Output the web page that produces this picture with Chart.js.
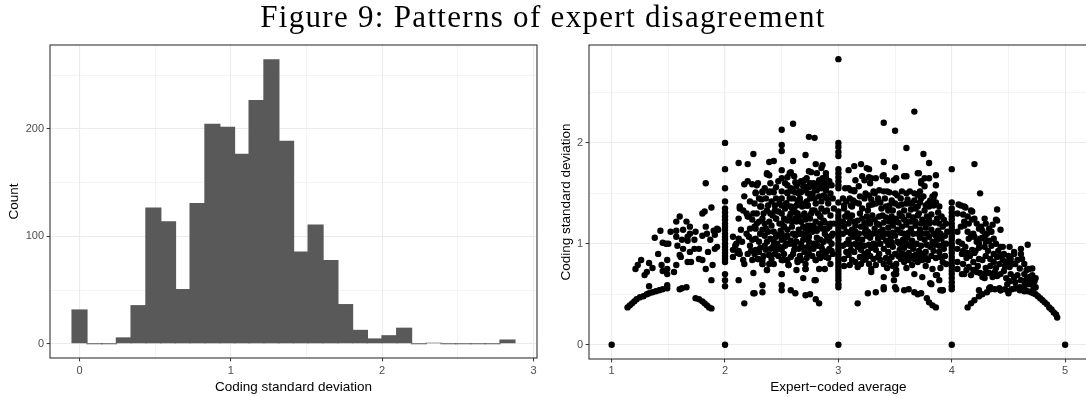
<!DOCTYPE html>
<html><head><meta charset="utf-8">
<script src="https://cdn.jsdelivr.net/npm/chart.js@4/dist/chart.umd.min.js"></script>
<style>
html,body{margin:0;padding:0;background:#fff;width:1086px;height:397px;overflow:hidden;position:relative}
#title{position:absolute;left:0;top:1px;width:1086px;text-align:center;font-family:'Liberation Serif',serif;font-size:31px;line-height:31px;letter-spacing:1.3px;color:#000;white-space:nowrap;z-index:2}
#c1{position:absolute;left:0;top:0}
#wrap2{position:absolute;left:543px;top:0;width:543px;height:397px;overflow:hidden}
#c2{position:absolute;left:0;top:0}
</style></head><body>
<canvas id="c1" width="543" height="397"></canvas>
<div id="wrap2"><canvas id="c2" width="548" height="397"></canvas></div>
<div id="title">Figure 9: Patterns of expert disagreement</div>
<script>
// ---------- Histogram data ----------
const histCenters = [0, 0.098, 0.195, 0.293, 0.39, 0.488, 0.585, 0.683, 0.78, 0.878, 0.975, 1.073, 1.17, 1.268, 1.365, 1.463, 1.56, 1.658, 1.755, 1.853, 1.95, 2.048, 2.145, 2.243, 2.34, 2.438, 2.535, 2.633, 2.73, 2.828];
const histCounts  = [32, 0, 0, 6, 36, 127, 114, 51, 131, 205, 202, 177, 227, 265, 189, 86, 111, 78, 37, 13, 5, 8, 15, 0, 1, 0, 0, 0, 0, 4];
const histXMajor = [0, 1, 2, 3];
const histXMinor = [0.5, 1.5, 2.5];
const histYMajor = [0, 100, 200];
const histYMinor = [50, 150, 250];

// ---------- Scatter data (expert-coded average, coding SD) ----------
const scatXMajor = [1, 2, 3, 4, 5];
const scatXMinor = [1.5, 2.5, 3.5, 4.5];
const scatYMajor = [0, 1, 2];
const scatYMinor = [0.5, 1.5, 2.5];

const zeroPts = [[1,0],[2,0],[3,0],[4,0],[5,0]];
const col2Y = [2.0,1.74,1.55,1.42,1.35,1.31,1.27,1.24,1.2,1.17,1.14,1.1,1.07,1.04,1.0,0.97,0.94,0.91,0.88,0.85,0.82,0.7,0.64,0.58];
const col3Y = [2.83,2.0,1.96,1.91,1.87,1.74,1.7,1.66,1.62,1.58,1.55,1.41,1.32,1.28,1.25,1.22,1.19,1.16,1.13,1.1,1.07,1.04,1.0,0.97,0.94,0.91,0.88,0.85,0.82,0.79,0.76,0.73,0.7,0.67,0.64,0.6,0.57];
const col4Y = [1.74,1.41,1.35,1.31,1.27,1.24,1.2,1.17,1.14,1.1,1.07,1.04,1.0,0.97,0.94,0.91,0.87,0.84,0.8,0.77,0.73,0.7,0.66,0.62,0.58,0.55];

const arcPts = [[1.14,0.37],[1.16,0.39],[1.18,0.41],[1.2,0.43],[1.22,0.45],[1.25,0.47],[1.28,0.48],[1.31,0.5],[1.33,0.51],[1.36,0.52],[1.39,0.53],[1.42,0.54],[1.45,0.55],[1.49,0.56],[1.49,0.59],[1.33,0.58],[1.6,0.55],[1.66,0.57],[1.62,0.56],
[1.74,0.46],[1.77,0.45],[1.8,0.43],[1.82,0.41],[1.84,0.39],[1.86,0.37],[1.88,0.36],
[2.17,0.41],[2.25,0.51],[2.26,0.51],[2.33,0.52],[2.33,0.59],[2.5,0.54],[2.5,0.59],[2.58,0.54],[2.62,0.51],[2.71,0.49],[2.75,0.5],[2.8,0.45],[2.83,0.41],[2.25,0.71],
[3.17,0.41],[3.26,0.51],[3.33,0.52],[3.4,0.55],[3.4,0.57],[3.5,0.57],[3.51,0.55],[3.58,0.54],[3.62,0.55],[3.67,0.52],[3.7,0.5],[3.73,0.51],[3.78,0.46],[3.8,0.42],[3.83,0.39],[3.86,0.37],[3.82,0.6],[3.9,0.54],[3.92,0.54],[3.49,0.64],[3.49,0.7],
[4.14,0.37],[4.17,0.41],[4.2,0.44],[4.24,0.48],[4.27,0.5],[4.31,0.52],[4.34,0.55],[4.38,0.55],[4.43,0.54],[4.47,0.55],[4.5,0.53],[4.53,0.55],[4.56,0.56],[4.6,0.54],[4.64,0.53],[4.67,0.53],[4.7,0.52],[4.72,0.51],[4.74,0.5],[4.76,0.48],[4.78,0.46],[4.8,0.44],[4.82,0.42],[4.84,0.4],[4.86,0.37],[4.88,0.35],[4.9,0.32],[4.92,0.3],[4.93,0.27]];

const cloudLeft = [[1.21,0.75],[1.23,0.79],[1.26,0.84],[1.29,0.69],[1.31,0.72],[1.33,0.81],[1.36,0.76],[1.38,1.06],[1.41,0.9],[1.43,1.13],[1.44,0.79],[1.45,0.73],[1.45,1.01],[1.48,1.0],[1.49,0.84],[1.49,0.75],[1.49,0.7],[1.5,1.0],[1.52,1.12],[1.55,0.72],[1.57,0.79],[1.57,1.22],[1.57,1.07],[1.57,1.13],[1.58,0.98],[1.6,0.89],[1.6,1.27],[1.61,0.87],[1.62,1.04],[1.63,0.95],[1.63,1.14],[1.66,1.22],[1.67,1.03],[1.67,0.82],[1.67,1.07],[1.69,1.17],[1.69,1.1],[1.69,0.92],[1.7,0.82],[1.73,0.95],[1.73,1.04],[1.74,1.12],[1.77,0.85],[1.77,0.95],[1.8,0.84],[1.8,1.08],[1.8,1.3],[1.82,1.32],[1.83,1.6],[1.83,1.17],[1.83,0.75],[1.84,1.1],[1.85,0.92],[1.87,1.04],[1.88,1.36],[1.88,0.64],[1.89,0.79],[1.9,1.13],[1.91,0.95],[1.91,1.09],[1.93,1.15],[1.94,1.14],[1.93,0.97]];

const cloudMid = [[2.07,0.94],[2.07,1.07],[2.07,0.87],[2.09,0.98],[2.1,1.0],[2.11,0.91],[2.12,0.93],[2.12,0.64],[2.12,1.25],[2.12,1.05],[2.12,1.8],[2.13,0.9],[2.13,1.35],[2.13,1.37],[2.14,1.14],[2.15,1.02],[2.16,1.33],[2.16,0.84],[2.17,0.8],[2.17,1.59],[2.17,1.47],[2.19,1.3],[2.19,1.1],[2.2,1.62],[2.2,0.9],[2.2,1.79],[2.2,1.27],[2.21,1.27],[2.21,1.07],[2.23,0.93],[2.24,1.24],[2.24,1.04],[2.24,0.84],[2.24,1.59],[2.25,1.89],[2.26,1.17],[2.27,1.5],[2.27,0.94],[2.28,1.58],[2.29,1.6],[2.29,0.85],[2.3,1.22],[2.3,1.45],[2.32,1.37],[2.33,1.14],[2.33,1.52],[2.33,0.84],[2.33,0.8],[2.34,1.3],[2.36,0.94],[2.37,1.69],[2.37,1.7],[2.37,0.74],[2.39,1.81],[2.39,1.52],[2.39,1.22],[2.39,0.8],[2.39,0.89],[2.39,1.68],[2.41,1.42],[2.42,1.52],[2.42,0.97],[2.43,1.82],[2.44,1.33],[2.45,1.07],[2.45,1.25],[2.45,0.94],[2.46,1.0],[2.48,1.4],[2.5,2.13],[2.5,1.98],[2.5,1.92],[2.5,1.73],[2.5,1.65],[2.5,1.52],[2.5,1.38],[2.5,1.3],[2.5,1.2],[2.5,1.1],[2.5,1.04],[2.5,0.94],[2.5,0.84],[2.5,0.7],[2.51,0.84],[2.52,1.17],[2.54,1.4],[2.55,1.5],[2.55,1.14],[2.55,0.84],[2.55,1.66],[2.55,1.58],[2.56,0.79],[2.57,1.27],[2.57,1.0],[2.57,1.7],[2.58,1.71],[2.59,1.36],[2.6,2.19],[2.6,1.82],[2.6,1.33],[2.6,1.52],[2.61,1.67],[2.61,0.94],[2.62,1.61],[2.62,1.31],[2.63,1.22],[2.63,0.74],[2.64,1.6],[2.64,1.43],[2.64,0.84],[2.65,1.14],[2.66,1.52],[2.66,1.1],[2.67,1.0],[2.67,1.22],[2.67,0.84],[2.68,1.4],[2.69,1.57],[2.69,1.17],[2.69,0.66],[2.7,1.63],[2.71,1.88],[2.71,1.38],[2.71,1.07],[2.71,0.8],[2.71,1.53],[2.71,1.24],[2.71,0.75],[2.73,1.38],[2.73,1.27],[2.73,0.97],[2.74,2.06],[2.74,1.72],[2.74,1.56],[2.74,1.07],[2.75,1.18],[2.76,1.71],[2.76,1.14],[2.77,1.33],[2.77,1.5],[2.77,1.12],[2.78,1.0],[2.79,2.05],[2.79,0.64],[2.8,1.79],[2.8,1.22],[2.8,1.0],[2.8,0.84],[2.81,1.7],[2.81,1.53],[2.82,1.15],[2.83,1.63],[2.83,0.75],[2.83,0.9],[2.84,1.27],[2.84,1.58],[2.85,1.75],[2.86,1.78],[2.86,0.94],[2.87,1.48],[2.88,1.21],[2.89,1.66],[2.89,1.7],[2.89,1.53],[2.89,0.87],[2.89,0.92],[2.9,1.57],[2.9,1.33],[2.9,1.07],[2.92,1.17],[2.93,1.5],[2.93,1.28],[2.94,1.0],
[2.31,1.37],[2.37,1.33],[2.42,1.28],[2.45,1.25],[2.48,1.2],[2.52,1.17],[2.54,1.4],[2.58,1.37],[2.61,1.33],[2.64,1.3],[2.68,1.37],[2.73,1.38],[2.79,1.33],[2.84,1.27],[2.87,1.23],[2.67,1.22],[2.73,1.18],[2.77,1.13],[2.81,1.13],[2.86,1.15],[2.55,1.23],[2.59,1.17],[2.64,1.1],
[2.29,0.85],[2.33,0.8],[2.39,0.89],[2.45,0.94],[2.51,0.84],[2.56,0.79],[2.64,0.82],[2.71,0.75],[2.8,0.84],[2.83,0.9],[2.89,0.92],[2.37,0.74],[2.5,0.7],[2.8,0.64],
[2.27,1.05],[2.3,1.02],[2.35,1.08],[2.4,1.05],[2.43,1.12],[2.47,1.09],[2.53,1.06],[2.58,1.03],[2.62,1.08],[2.69,1.04],[2.73,1.1],[2.84,1.04],[2.88,1.1],[2.92,1.03],[2.35,0.98],[2.4,0.95],[2.53,0.98],[2.6,1.0],[2.7,0.92],[2.75,0.95],[2.77,0.88],[2.85,0.97],[2.92,0.95],[2.95,1.1],[2.96,1.2],[2.96,1.35],[2.95,1.45],[2.95,0.9],[2.93,0.8],[2.88,0.75],[2.6,0.9],[2.65,0.95],[2.47,0.88],[2.43,0.8],[2.3,0.92],[2.27,1.15],[2.28,1.3],[2.35,1.2],[2.38,1.12],[2.4,1.3],[2.36,1.45],[2.45,1.45],[2.5,1.45],[2.6,1.45],[2.65,1.5],[2.75,1.45],[2.8,1.4],[2.85,1.35],[2.9,1.45],[2.86,1.65],[2.78,1.6],[2.72,1.65],[2.62,1.25],[2.7,1.3],[2.75,1.25],[2.58,1.3],
[2.27,1.51],[2.33,1.51],[2.39,1.51],[2.43,1.51],[2.55,1.51],[2.62,1.51],[2.67,1.51],[2.73,1.5],[2.77,1.49],[2.83,1.47],[2.88,1.47],
[2.22,1.15],[2.25,1.3],[2.28,1.2],[2.31,1.1],[2.33,1.25],[2.36,1.15],[2.38,1.38],[2.41,1.18],[2.43,1.02],[2.44,1.38],[2.47,1.32],[2.49,1.13],[2.52,1.25],[2.53,1.35],[2.55,1.08],[2.57,1.45],[2.59,1.22],[2.6,1.1],[2.63,1.38],[2.63,1.02],[2.65,1.27],[2.66,1.45],[2.68,1.1],[2.69,1.28],[2.71,1.15],[2.72,1.42],[2.74,1.02],[2.76,1.3],[2.78,1.18],[2.79,1.45],[2.81,1.06],[2.82,1.3],[2.84,1.2],[2.85,1.42],[2.87,1.02],[2.88,1.32],[2.9,1.15],[2.91,1.4],[2.93,1.2],[2.94,1.08],
[2.22,0.98],[2.26,0.9],[2.31,0.96],[2.34,0.88],[2.37,1.02],[2.41,0.85],[2.44,0.9],[2.48,0.97],[2.52,0.9],[2.54,1.0],[2.58,0.87],[2.62,0.96],[2.66,0.88],[2.68,0.97],[2.72,0.86],[2.74,0.9],[2.78,0.95],[2.82,0.98],[2.84,0.86],[2.87,0.89],[2.91,0.86],[2.94,0.93],
[2.22,1.42],[2.26,1.4],[2.32,1.44],[2.35,1.55],[2.4,1.6],[2.45,1.56],[2.47,1.62],[2.53,1.6],[2.58,1.55],[2.63,1.57],[2.67,1.62],[2.7,1.57],[2.75,1.6],[2.79,1.55],[2.82,1.6],[2.85,1.55],[2.88,1.6],[2.92,1.62],[2.94,1.58]];

const cloudRight = [[3.09,1.73],[3.14,1.77],[3.2,1.79],[3.25,1.75],[3.27,1.74],[3.4,2.2],[3.5,2.12],[3.67,2.31],[3.6,1.95],[3.4,1.81],[3.5,1.76],[3.75,1.89],[3.8,1.8],[3.71,1.7],[3.4,1.68],[3.49,1.63],[3.58,1.67],[3.7,1.7],[3.76,1.65],[3.86,1.68],[3.86,1.58],[3.73,1.6],[3.76,1.57],
[3.15,1.63],[3.21,1.67],[3.23,1.63],[3.27,1.66],[3.29,1.65],[3.33,1.65],[3.28,1.6],[3.39,1.67],[3.43,1.63],[3.51,1.65],[3.6,1.67],[3.73,1.62],[3.8,1.65],
[3.06,1.55],[3.09,1.55],[3.11,1.53],[3.14,1.53],[3.14,1.52],[3.18,1.57],[3.24,1.5],[3.27,1.48],[3.31,1.52],[3.32,1.5],[3.36,1.53],[3.4,1.52],[3.43,1.52],[3.45,1.51],[3.5,1.5],[3.52,1.48],[3.56,1.52],[3.6,1.5],[3.63,1.52],[3.67,1.5],[3.7,1.48],[3.72,1.52],[3.79,1.4],[3.84,1.46],[3.73,1.45],[3.83,1.47],[3.85,1.49],
[3.05,1.38],[3.05,1.35],[3.11,1.38],[3.12,1.37],[3.15,1.41],[3.18,1.4],[3.23,1.45],[3.27,1.38],[3.3,1.39],[3.33,1.4],[3.38,1.35],[3.42,1.37],[3.45,1.38],[3.5,1.4],[3.53,1.38],[3.56,1.39],[3.6,1.4],[3.63,1.4],[3.65,1.4],[3.68,1.35],[3.7,1.37],[3.77,1.38],[3.8,1.37],[3.84,1.38],[3.89,1.37],[3.76,1.33],
[3.06,1.27],[3.08,1.3],[3.12,1.28],[3.17,1.23],[3.21,1.25],[3.25,1.27],[3.3,1.28],[3.34,1.2],[3.39,1.28],[3.42,1.26],[3.47,1.27],[3.51,1.25],[3.54,1.3],[3.58,1.24],[3.62,1.28],[3.66,1.26],[3.7,1.28],[3.74,1.24],[3.78,1.27],[3.82,1.29],[3.87,1.25],[3.91,1.27],[3.95,1.2],[3.71,1.3],
[3.05,1.17],[3.09,1.2],[3.12,1.14],[3.15,1.18],[3.2,1.17],[3.24,1.16],[3.28,1.2],[3.32,1.15],[3.36,1.19],[3.39,1.14],[3.44,1.16],[3.48,1.18],[3.52,1.14],[3.56,1.17],[3.6,1.19],[3.64,1.15],[3.68,1.18],[3.72,1.14],[3.77,1.16],[3.8,1.2],[3.84,1.1],[3.88,1.13],[3.92,1.17],[3.96,1.12],
[3.09,1.04],[3.13,1.07],[3.17,1.05],[3.21,1.04],[3.25,1.08],[3.28,1.06],[3.31,1.0],[3.35,1.05],[3.39,1.07],[3.42,1.03],[3.46,1.05],[3.5,1.08],[3.54,1.0],[3.57,1.04],[3.61,1.06],[3.65,1.03],[3.69,1.0],[3.72,1.06],[3.76,1.04],[3.8,1.07],[3.83,1.02],[3.87,1.04],[3.91,1.05],[3.95,1.0],
[3.09,0.89],[3.11,0.94],[3.14,0.92],[3.17,0.97],[3.2,0.94],[3.23,0.9],[3.26,0.92],[3.29,0.96],[3.33,0.94],[3.36,0.9],[3.4,0.95],[3.44,0.92],[3.48,0.97],[3.5,0.9],[3.54,0.94],[3.58,0.96],[3.62,0.91],[3.66,0.95],[3.68,0.89],[3.71,0.93],[3.74,0.9],[3.77,0.92],[3.81,0.97],[3.84,0.93],[3.89,0.92],[3.93,0.95],
[3.12,0.84],[3.15,0.82],[3.17,0.77],[3.2,0.8],[3.24,0.85],[3.29,0.75],[3.33,0.79],[3.37,0.84],[3.4,0.8],[3.45,0.82],[3.51,0.8],[3.51,0.74],[3.55,0.85],[3.58,0.82],[3.62,0.84],[3.65,0.79],[3.7,0.82],[3.74,0.84],[3.79,0.84],[3.83,0.75],[3.87,0.69],[3.92,0.82],
[3.4,0.67],[3.51,0.7],[3.67,0.7],[3.74,0.67],[3.86,0.69],[3.89,0.64],[3.81,0.61],[3.92,0.54],[3.29,0.72],
[3.04,1.45],[3.07,1.42],[3.1,1.45],[3.13,1.43],[3.19,1.47],[3.21,1.35],[3.26,1.33],[3.29,1.44],[3.35,1.45],[3.37,1.41],[3.41,1.45],[3.44,1.33],[3.47,1.43],[3.48,1.33],[3.55,1.45],[3.58,1.33],[3.61,1.44],[3.64,1.34],[3.67,1.43],[3.72,1.41],[3.75,1.47],[3.81,1.43],[3.86,1.41],[3.88,1.31],
[3.04,1.22],[3.1,1.25],[3.14,1.22],[3.19,1.3],[3.23,1.21],[3.27,1.23],[3.32,1.24],[3.36,1.27],[3.4,1.21],[3.45,1.22],[3.49,1.22],[3.53,1.21],[3.56,1.27],[3.6,1.22],[3.64,1.22],[3.68,1.22],[3.73,1.2],[3.76,1.21],[3.8,1.24],[3.85,1.21],[3.89,1.2],[3.93,1.24],
[3.04,1.1],[3.07,1.12],[3.11,1.1],[3.15,1.12],[3.18,1.1],[3.23,1.11],[3.26,1.12],[3.3,1.1],[3.34,1.1],[3.37,1.12],[3.41,1.1],[3.44,1.1],[3.48,1.11],[3.55,1.11],[3.58,1.1],[3.62,1.11],[3.66,1.1],[3.7,1.1],[3.74,1.1],[3.78,1.1],[3.82,1.14],[3.86,1.08],[3.9,1.1],[3.94,1.08],
[3.04,0.98],[3.07,1.0],[3.11,0.99],[3.15,1.0],[3.19,0.99],[3.23,0.98],[3.27,0.99],[3.33,0.99],[3.37,1.0],[3.44,0.99],[3.47,1.01],[3.52,1.02],[3.56,0.99],[3.6,1.0],[3.63,0.98],[3.67,0.99],[3.73,0.98],[3.78,0.99],[3.85,0.99],[3.89,0.98],[3.93,1.0],
[3.05,0.85],[3.07,0.92],[3.19,0.87],[3.22,0.84],[3.28,0.88],[3.31,0.85],[3.35,0.87],[3.42,0.86],[3.47,0.87],[3.53,0.88],[3.57,0.9],[3.6,0.87],[3.64,0.88],[3.67,0.85],[3.72,0.87],[3.77,0.86],[3.82,0.88],[3.86,0.86],[3.9,0.87],[3.94,0.88],
[3.05,0.78],[3.1,0.79],[3.27,0.8],[3.43,0.76],[3.48,0.78],[3.6,0.76],[3.77,0.78],[3.9,0.76],[3.95,0.8]];

const cloudEast = [[4.2,1.79],[4.25,1.5],[4.06,1.39],[4.08,1.38],[4.11,1.37],[4.12,1.36],[4.17,1.33],[4.18,1.32],[4.2,1.25],[4.4,1.34],[4.29,1.25],[4.4,1.23],[4.43,1.14],[4.33,1.15],[4.26,1.17],[4.24,1.15],[4.15,1.2],[4.11,1.18],[4.08,1.17],[4.11,1.22],[4.39,1.24],[4.36,1.19],[4.3,1.2],
[4.06,1.02],[4.09,1.0],[4.12,0.97],[4.15,1.05],[4.17,1.07],[4.19,1.1],[4.22,1.02],[4.24,1.0],[4.27,1.06],[4.29,0.97],[4.29,1.07],[4.33,1.03],[4.37,1.05],[4.39,1.0],[4.18,0.94],[4.21,0.93],[4.43,0.97],[4.45,0.97],[4.51,0.97],[4.55,0.92],[4.55,0.9],[4.61,0.9],[4.61,0.95],[4.67,0.99],
[4.09,0.9],[4.13,0.86],[4.16,0.88],[4.2,0.91],[4.24,0.85],[4.27,0.84],[4.3,0.88],[4.34,0.85],[4.37,0.82],[4.4,0.87],[4.45,0.84],[4.48,0.82],[4.5,0.8],[4.51,0.77],[4.54,0.8],[4.56,0.8],[4.6,0.755],[4.64,0.8],[4.66,0.74],[4.71,0.755],[4.68,0.75],
[4.09,0.7],[4.11,0.7],[4.15,0.77],[4.17,0.69],[4.22,0.72],[4.27,0.67],[4.29,0.66],[4.33,0.71],[4.36,0.67],[4.4,0.68],[4.43,0.7],[4.46,0.73],[4.52,0.7],[4.55,0.67],[4.58,0.69],[4.61,0.64],[4.64,0.7],[4.68,0.67],[4.71,0.69],[4.71,0.61],[4.74,0.57],[4.73,0.63],
[4.24,0.54],[4.33,0.56],[4.34,0.57],[4.42,0.56],[4.43,0.54],[4.49,0.6],[4.5,0.51],[4.56,0.56],[4.6,0.57],[4.64,0.58],[4.67,0.6],[4.69,0.6],[4.72,0.55],
[4.05,1.3],[4.1,1.29],[4.14,1.27],[4.18,1.24],[4.22,1.2],[4.27,1.13],[4.31,1.1],[4.35,1.12],[4.05,1.12],[4.14,1.12],[4.2,1.07],[4.25,1.05],[4.3,1.02],[4.35,0.98],[4.41,0.93],[4.46,0.9],[4.5,0.88],[4.05,0.95],[4.1,0.93],[4.14,0.91],[4.24,0.96],[4.32,0.93],[4.37,0.9],[4.43,0.88],[4.05,0.82],[4.1,0.8],[4.19,0.82],[4.23,0.78],[4.3,0.76],[4.34,0.78],[4.39,0.76],[4.42,0.8],[4.47,0.78],[4.05,0.75],[4.13,0.74],[4.19,0.74],[4.25,0.71],[4.3,0.71],[4.38,0.72],[4.48,0.66],[4.51,0.63],[4.56,0.62],[4.64,0.63],[4.66,0.65],[4.7,0.64],[4.74,0.66],[4.62,0.85],[4.58,0.84],[4.52,0.85]];

// ---------- helpers ----------
const FONT = "'Liberation Sans', Arial, sans-serif";
const toXY = arr => arr.map(p => ({x: p[0], y: p[1]}));
const colXY = (x, ys) => ys.map(y => ({x: x, y: y}));

function axis(o) {
  const all = o.majors.concat(o.minors).sort((a,b)=>a-b);
  return {
    type: 'linear', min: o.min, max: o.max, offset: false,
    afterBuildTicks: s => { s.ticks = all.map(v => ({value: v})); },
    afterFit: s => { if (o.horizontal) s.height = o.size; else s.width = o.size; },
    ticks: {
      autoSkip: false, maxRotation: 0, minRotation: 0, padding: o.pad,
      color: '#4D4D4D', font: {family: FONT, size: 11},
      callback: v => o.majors.includes(v) ? String(v) : ''
    },
    grid: {
      offset: false,
      color: '#EBEBEB', drawTicks: true, tickLength: o.tl, tickWidth: 1,
      lineWidth: c => (c.tick && o.majors.includes(c.tick.value)) ? 1.1 : 0.55,
      tickColor: c => (c.tick && o.majors.includes(c.tick.value)) ? '#333333' : 'rgba(0,0,0,0)'
    },
    border: {display: false},
    title: {display: true, text: o.title, color: '#000000', font: {family: FONT, size: 13.5}, padding: o.titlePad}
  };
}

const panelBorder = {
  id: 'panelBorder',
  afterDraw(chart) {
    const {ctx, chartArea: a} = chart;
    ctx.save();
    ctx.strokeStyle = '#333333';
    ctx.lineWidth = 1.1;
    ctx.strokeRect(a.left, a.top, a.right - a.left, a.bottom - a.top);
    ctx.restore();
  }
};

const common = {
  responsive: false, animation: false, devicePixelRatio: 1,
  plugins: {legend: {display: false}, tooltip: {enabled: false}, title: {display: false}},
  events: []
};

// ---------- Histogram ----------
new Chart(document.getElementById('c1'), {
  type: 'bar',
  data: {
    datasets: [{
      data: histCenters.map((x, i) => ({x: x, y: histCounts[i]})),
      backgroundColor: '#595959', borderWidth: 0,
      barPercentage: 1.1, categoryPercentage: 1.0, minBarLength: 1, grouped: false
    }]
  },
  options: Object.assign({}, common, {
    layout: {padding: {top: 45, right: 6, bottom: 0, left: 0}},
    scales: {
      x: axis({min: -0.195, max: 3.023, majors: histXMajor, minors: histXMinor, horizontal: true, size: 39, tl: 3.4, pad: 3.3, title: 'Coding standard deviation', titlePad: {top: 0, bottom: 1.3}}),
      y: axis({min: -13.25, max: 278.25, majors: histYMajor, minors: histYMinor, horizontal: false, size: 50, tl: 3.4, pad: 2.5, title: 'Count', titlePad: {top: 6.6, bottom: 0}})
    }
  }),
  plugins: [panelBorder]
});

// ---------- Scatter ----------
const scatterPts = [].concat(
  toXY(zeroPts), colXY(2, col2Y), colXY(3, col3Y), colXY(4, col4Y),
  toXY(arcPts), toXY(cloudLeft), toXY(cloudMid), toXY(cloudRight), toXY(cloudEast)
);

new Chart(document.getElementById('c2'), {
  type: 'scatter',
  data: {
    datasets: [{
      data: scatterPts,
      pointRadius: 3.2, pointHoverRadius: 3.2,
      backgroundColor: '#000000', borderWidth: 0
    }]
  },
  options: Object.assign({}, common, {
    layout: {padding: {top: 45, right: 2, bottom: 0, left: 0}},
    scales: {
      x: axis({min: 0.8, max: 5.2, majors: scatXMajor, minors: scatXMinor, horizontal: true, size: 38, tl: 3.4, pad: 2.3, title: 'Expert\u2212coded average', titlePad: {top: 0, bottom: 1.3}}),
      y: axis({min: -0.1415, max: 2.97, majors: scatYMajor, minors: scatYMinor, horizontal: false, size: 46, tl: 3.4, pad: 2.5, title: 'Coding standard deviation', titlePad: {top: 15.6, bottom: 0}})
    }
  }),
  plugins: [panelBorder]
});
</script>
</body></html>
